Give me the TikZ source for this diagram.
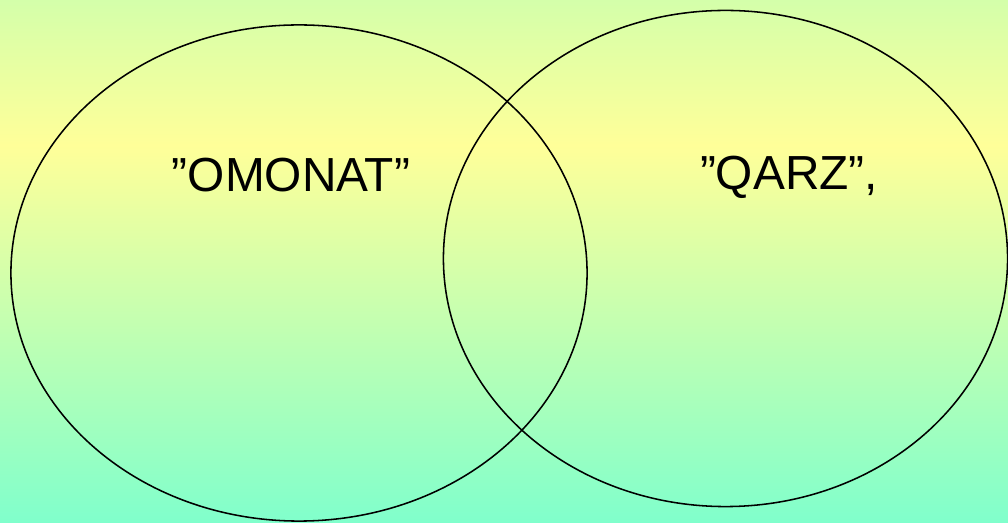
\documentclass[tikz,border=0pt]{standalone}
\usepackage{fontspec}
\setmainfont{Liberation Sans}
\usetikzlibrary{shapes.geometric}
\definecolor{topgreen}{HTML}{D4FFAA}
\definecolor{midyellow}{HTML}{FFFF99}
\definecolor{lowaqua}{HTML}{80FFCC}
\begin{document}
\begin{tikzpicture}[x=0.025cm,y=-0.025cm,set/.style={draw=black,line width=1.1pt,ellipse,inner sep=0pt,outer sep=0pt,minimum height=12.4cm},label/.style={font=\fontsize{34}{40}\selectfont,text=black}]
\useasboundingbox (0,0) rectangle (1008,523);
\shade[top color=topgreen,bottom color=midyellow] (0,0) rectangle (1008,146);
\shade[top color=midyellow,bottom color=lowaqua] (0,145) rectangle (1008,523);
\node[set,minimum width=14.4cm] (omonat) at (299,273) {};
\node[set,minimum width=14.1cm] (qarz) at (725.5,258.5) {};
\node[label] (t1) at (291,175) {”OMONAT”};
\node[label] (t2) at (789,177) {”QARZ”,};
\end{tikzpicture}
\end{document}
